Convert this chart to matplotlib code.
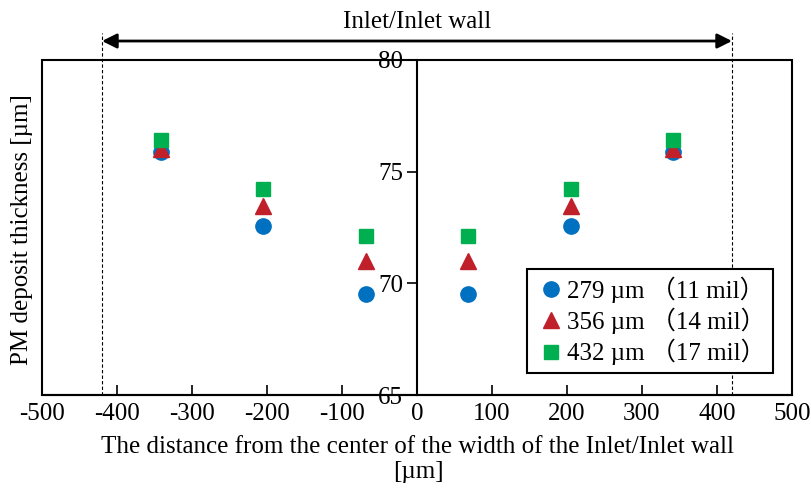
import matplotlib.pyplot as plt
from matplotlib.patches import Rectangle

plt.rcParams['font.family'] = ['Liberation Serif', 'Noto Sans CJK JP']

# Data
x_pos = [-342, -205, -68, 68, 205, 342]
y_279 = [75.88, 72.57, 69.52, 69.52, 72.57, 75.88]
y_356 = [76.0, 73.46, 71.0, 71.0, 73.46, 76.0]
y_432 = [76.42, 74.22, 72.12, 72.12, 74.22, 76.42]
labels = ['279 µm （11 mil）', '356 µm （14 mil）', '432 µm （17 mil）']
wall_half = 420
xticks = list(range(-500, 501, 100))
yticks = [65, 70, 75, 80]

fs = 18
fig = plt.figure(figsize=(8.12, 4.9), dpi=100)
ax = fig.add_axes([42/812, 95/490, 750/812, 335/490])

ax.set_xlim(-500, 500)
ax.set_ylim(65, 80)

# y axis through x=0, plot area border drawn separately
ax.spines['left'].set_position(('data', 0))
ax.spines['left'].set_linewidth(1.5)
ax.spines['bottom'].set_linewidth(1.5)
ax.spines['top'].set_visible(False)
ax.spines['right'].set_visible(False)
ax.add_patch(Rectangle((0, 0), 1, 1, transform=ax.transAxes, fill=False,
                       ec='black', lw=1.5, clip_on=False, zorder=5))

ax.set_xticks(xticks)
ax.set_xticklabels([str(v) for v in xticks])
ax.set_yticks(yticks)
ax.tick_params(axis='x', direction='in', length=7, width=1.2, labelsize=fs, pad=6)
ax.tick_params(axis='y', direction='out', length=7, width=1.2, labelsize=fs, pad=3)

# axis titles
fig.text(418/812, 1 - 447/490,
         'The distance from the center of the width of the Inlet/Inlet wall',
         ha='center', va='center', fontsize=fs)
fig.text(418/812, 1 - 472/490, '[µm]', ha='center', va='center', fontsize=fs)
fig.text(22/812, 1 - 230/490, 'PM deposit thickness [µm]', rotation=90,
         ha='center', va='center', fontsize=fs)

# Inlet wall boundaries
for xv in (-wall_half, wall_half):
    ax.plot([xv, xv], [65, 81.2], ls=(0, (3, 2)), color='black', lw=0.8,
            clip_on=False)
ax.annotate('', xy=(-wall_half, 80.85), xytext=(wall_half, 80.85),
            arrowprops=dict(arrowstyle='<|-|>', color='black', lw=2,
                            mutation_scale=22, shrinkA=0, shrinkB=0),
            annotation_clip=False)
ax.text(0, 81.45, 'Inlet/Inlet wall', ha='center', va='baseline', fontsize=fs)

ax.plot(x_pos, y_279, 'o', color='#0070C0', ms=11, label=labels[0], zorder=3)
ax.plot(x_pos, y_356, '^', color='#C0202A', ms=11, label=labels[1], zorder=3)
ax.plot(x_pos, y_432, 's', color='#00B050', ms=10, label=labels[2], zorder=3)

leg = ax.legend(loc='lower right', bbox_to_anchor=(0.975, 0.066), fontsize=fs,
                frameon=True, fancybox=False, edgecolor='black', framealpha=1,
                handletextpad=0.0, handlelength=1.3, borderpad=0.3,
                labelspacing=0.2, borderaxespad=0)
leg.get_frame().set_linewidth(1.5)
leg.set_zorder(6)

fig.savefig('out.png', dpi=100)
plt.close(fig)
